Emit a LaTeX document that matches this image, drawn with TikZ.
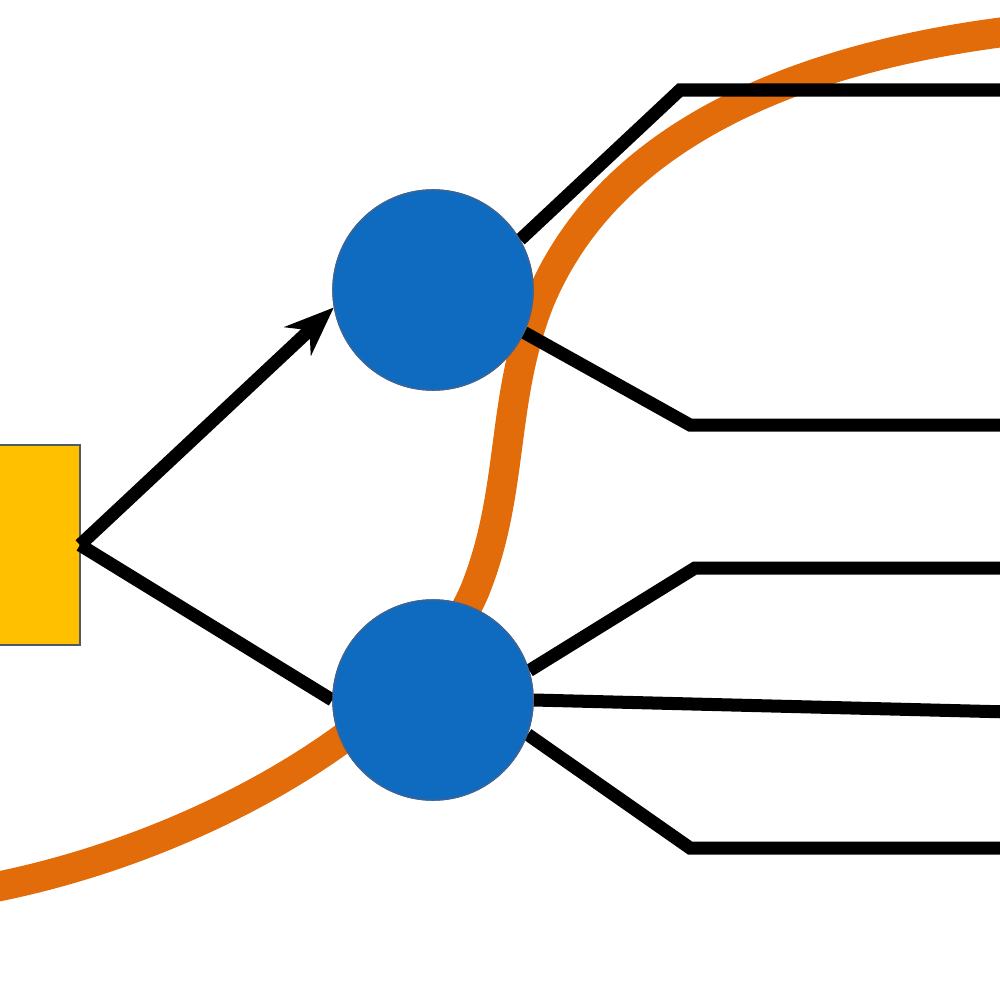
\documentclass[tikz,border=0pt]{standalone}
\usetikzlibrary{arrows.meta}
\begin{document}
\begin{tikzpicture}[x=0.01cm,y=-0.01cm]
\tikzstyle{hub}=[circle,fill={rgb,255:red,14;green,107;blue,192},draw={rgb,255:red,60;green,100;blue,150},minimum size=2cm,inner sep=0pt]
\tikzstyle{wire}=[line width=3.7pt,black]
\useasboundingbox (0,0) rectangle (1000,1000);
% orange ring
\draw[line width=8.5pt,color={rgb,255:red,227;green,108;blue,10}]
  (-20,890) .. controls (200,850) and (420,720) .. (475,590)
  .. controls (515,490) and (500,400) .. (540,300)
  .. controls (620,110) and (850,50) .. (1020,30);
% source
\node[draw={rgb,255:red,80;green,90;blue,100},fill={rgb,255:red,255;green,192;blue,0},minimum width=1.6cm,minimum height=2cm,inner sep=0pt] (src) at (0,545) {};
\node[hub] (up) at (433,290) {};
\node[hub] (dn) at (433,700) {};
\coordinate (s) at (80,545);
\draw[wire,-{Stealth[length=14pt,width=11pt]}] (s) -- (up.190);
\draw[wire] (s) -- (dn.west);
\foreach \a/\b/\c in {up.30/680/90, up.-25/690/425, dn.17/695/568, dn.-20/690/848}
  \draw[wire] (\a) -- (\b,\c) -- (1010,\c);
\draw[wire] (dn.east) -- (1010,712);
\node[hub] at (up) {};
\node[hub] at (dn) {};
\end{tikzpicture}
\end{document}
